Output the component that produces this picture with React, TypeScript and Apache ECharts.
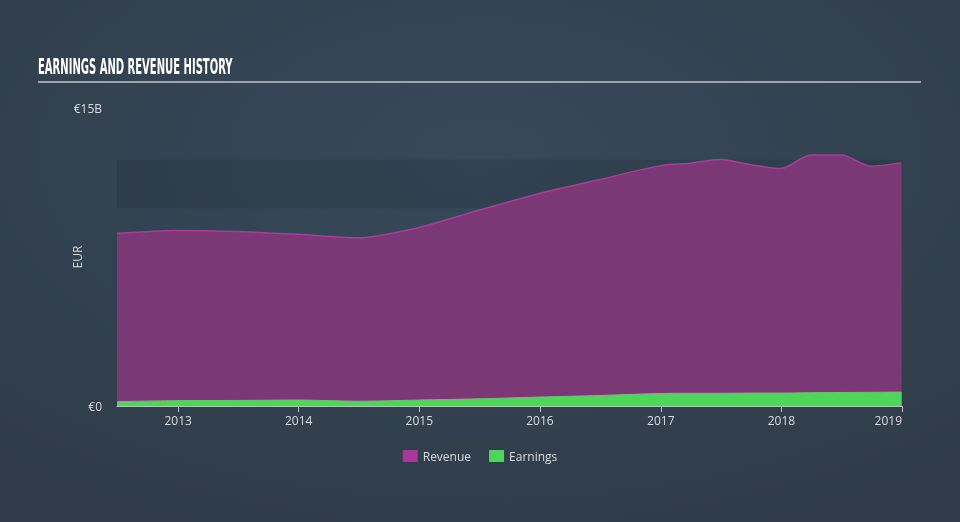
import React, { useEffect, useRef } from "react";
import * as echarts from "echarts";

const dates = [
  "2012-06-30", "2012-12-31", "2013-06-30", "2013-12-31", "2014-06-30", "2014-12-31",
  "2015-06-30", "2015-12-31", "2016-06-30", "2016-12-31", "2017-03-31", "2017-06-30",
  "2017-09-30", "2017-12-31", "2018-03-31", "2018-06-30", "2018-09-30", "2018-12-31",
];
// EUR billions
const revenue = [
  8.69, 8.84, 8.78, 8.64, 8.47, 8.99,
  9.85, 10.7, 11.4, 12.1, 12.22, 12.41,
  12.15, 11.96, 12.63, 12.63, 12.07, 12.25,
];
const earnings = [
  0.22, 0.27, 0.28, 0.3, 0.24, 0.3,
  0.36, 0.45, 0.53, 0.63, 0.64, 0.64,
  0.65, 0.65, 0.67, 0.68, 0.69, 0.7,
];
const yTicks = [0, 15];
const bandRange = [9.95, 12.4];
const xMin = "2012-06-30";
const xMax = "2019-01-01";

export default function App() {
  const ref = useRef<HTMLDivElement>(null);
  useEffect(() => {
    if (!ref.current) return;
    const chart = echarts.init(ref.current, undefined, { renderer: "svg" });
    const labelFont = "'Open Sans', 'DejaVu Sans', sans-serif";
    const year = 365.25 * 24 * 3600 * 1000;
    chart.setOption({
      animation: false,
      backgroundColor: {
        type: "radial",
        x: 0.5,
        y: 0.3,
        r: 0.8,
        colorStops: [
          { offset: 0, color: "#37495a" },
          { offset: 1, color: "#2f3b48" },
        ],
      },
      graphic: [
        {
          type: "text",
          left: 38,
          top: 56,
          scaleX: 0.53,
          style: {
            text: "EARNINGS AND REVENUE HISTORY",
            fill: "#ffffff",
            font: "bold 21px 'Liberation Sans Narrow', 'DejaVu Sans Condensed', sans-serif",
          },
        },
        {
          type: "rect",
          shape: { x: 38, y: 81, width: 883, height: 2 },
          style: { fill: "#9ea4aa" },
        },
      ],
      legend: {
        bottom: 55,
        left: "center",
        itemWidth: 15,
        itemHeight: 12,
        itemGap: 18,
        icon: "rect",
        textStyle: { color: "#d8dce0", fontSize: 12, fontFamily: labelFont },
        data: ["Revenue", "Earnings"],
      },
      grid: { left: 117, right: 58, top: 108, bottom: 116 },
      xAxis: {
        type: "time",
        min: xMin,
        max: xMax,
        minInterval: year,
        maxInterval: year,
        splitLine: { show: false },
        axisLine: { show: true, lineStyle: { color: "#b9bec4", width: 1 } },
        axisTick: { show: true, length: 6, lineStyle: { color: "#b9bec4" } },
        axisLabel: {
          color: "#d8dce0",
          fontSize: 12,
          fontFamily: labelFont,
          margin: 8,
          showMaxLabel: true,
          alignMaxLabel: "right",
          formatter: (v: number) => String(new Date(v).getFullYear()),
        },
      },
      yAxis: {
        type: "value",
        min: yTicks[0],
        max: yTicks[1],
        interval: yTicks[1] - yTicks[0],
        name: "EUR",
        nameLocation: "middle",
        nameGap: 34,
        nameRotate: 90,
        nameMoveOverlap: false,
        nameTextStyle: { color: "#d8dce0", fontSize: 12, fontFamily: labelFont },
        splitLine: { show: false },
        axisLine: { show: false },
        axisTick: { show: false },
        axisLabel: {
          color: "#d8dce0",
          fontSize: 12,
          fontFamily: labelFont,
          margin: 15,
          formatter: (v: number) => (v === 0 ? "€0" : `€${v}B`),
        },
      },
      series: [
        {
          name: "Revenue",
          type: "line",
          data: dates.map((d, i) => [d, revenue[i]]),
          smooth: 0.3,
          showSymbol: false,
          symbol: "none",
          itemStyle: { color: "#a9379c" },
          lineStyle: { color: "#b4369f", width: 1.5 },
          areaStyle: { color: "#7a3874", opacity: 1 },
          markArea: {
            silent: true,
            itemStyle: { color: "rgba(30,40,50,0.2)" },
            data: [[{ yAxis: bandRange[0] }, { yAxis: bandRange[1] }]],
          },
          z: 2,
        },
        {
          name: "Earnings",
          type: "line",
          data: dates.map((d, i) => [d, earnings[i]]),
          smooth: 0.3,
          showSymbol: false,
          symbol: "none",
          itemStyle: { color: "#4fd65a" },
          lineStyle: { color: "#4fd65a", width: 1 },
          areaStyle: { color: "#4fd65a", opacity: 1 },
          z: 3,
        },
      ],
    });
    return () => chart.dispose();
  }, []);
  return (
    <div
      ref={ref}
      style={{ position: "fixed", left: 0, top: 0, width: 960, height: 522 }}
    />
  );
}
